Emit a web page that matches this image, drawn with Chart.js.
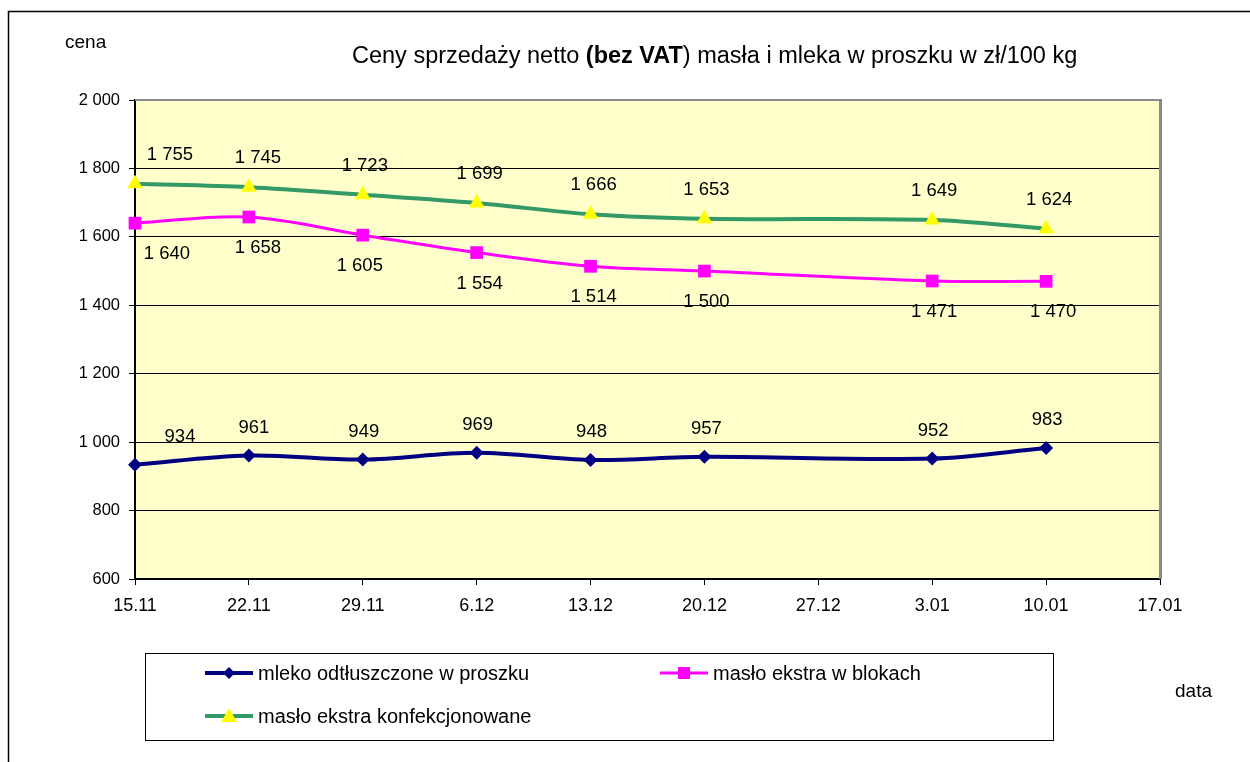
<!DOCTYPE html>
<html>
<head>
<meta charset="utf-8">
<script src="https://cdn.jsdelivr.net/npm/chart.js@4/dist/chart.umd.min.js"></script>
<style>
html,body{margin:0;padding:0;background:#fff;}
#wrap{position:relative;width:1250px;height:762px;}
canvas{display:block;}
</style>
</head>
<body>
<div id="wrap"><canvas id="c" width="1250" height="762"></canvas></div>
<script>
// ---- data ----
const tickLabels = ["15.11","22.11","29.11","6.12","13.12","20.12","27.12","3.01","10.01","17.01"];
const weekIndex = [0, 1, 2, 3, 4, 5, 7, 8];
const mleko = [934, 961, 949, 969, 948, 957, 952, 983];
const masloBloki = [1640, 1658, 1605, 1554, 1514, 1500, 1471, 1470];
const masloKonf = [1755, 1745, 1723, 1699, 1666, 1653, 1649, 1624];
const seriesNames = ["mleko odtłuszczone w proszku", "masło ekstra w blokach", "masło ekstra konfekcjonowane"];

const FONT = "'Liberation Sans', Arial, sans-serif";
const pts = (vals) => vals.map((v, i) => ({x: weekIndex[i], y: v}));
const fmt = (v) => { const s = String(Math.round(v)); return s.length > 3 ? s.slice(0, s.length-3) + " " + s.slice(-3) : s; };

// label placement styling (pixel offsets relative to point)
const labelStyle = [
  {dy: -28, dx: [45, 5, 1, 1, 1, 2, 1, 1]},
  {dy: 31, dx: [32, 9, -3, 3, 3, 2, 2, 7]},
  {dy: -29, dx: [35, 9, 2, 3, 3, 2, 2, 3]}
];

const decorPlugin = {
  id: 'decor',
  beforeDraw(chart) {
    const {ctx, chartArea: a} = chart;
    ctx.save();
    ctx.fillStyle = '#fff';
    ctx.fillRect(0, 0, chart.width, chart.height);
    ctx.fillStyle = '#FFFFCC';
    ctx.fillRect(a.left, a.top, a.right - a.left, a.bottom - a.top);
    ctx.restore();
  },
  afterDatasetsDraw(chart) {
    const {ctx} = chart;
    ctx.save();
    ctx.font = "18.5px " + FONT;
    ctx.fillStyle = '#000';
    ctx.textAlign = 'center';
    ctx.textBaseline = 'middle';
    chart.data.datasets.forEach((ds, di) => {
      const meta = chart.getDatasetMeta(di);
      const st = labelStyle[di];
      meta.data.forEach((el, i) => {
        ctx.fillText(fmt(ds.data[i].y), el.x + st.dx[i], el.y + st.dy);
      });
    });
    ctx.restore();
  },
  afterDraw(chart) {
    const {ctx, chartArea: a} = chart;
    ctx.save();
    // outer frame
    ctx.strokeStyle = '#000';
    ctx.lineWidth = 1.5;
    ctx.beginPath();
    ctx.moveTo(8.5, 762);
    ctx.lineTo(8.5, 11.5);
    ctx.lineTo(1250, 11.5);
    ctx.stroke();
    // plot top/right border
    ctx.strokeStyle = '#8a8a8a';
    ctx.lineWidth = 2;
    ctx.beginPath();
    ctx.moveTo(a.left, a.top);
    ctx.lineTo(a.right, a.top);
    ctx.stroke();
    ctx.lineWidth = 3;
    ctx.beginPath();
    ctx.moveTo(a.right + 0.5, a.top - 1);
    ctx.lineTo(a.right + 0.5, a.bottom);
    ctx.stroke();
    // texts
    ctx.fillStyle = '#000';
    ctx.textBaseline = 'middle';
    ctx.textAlign = 'left';
    ctx.font = "19px " + FONT;
    ctx.fillText("cena", 65, 43);
    ctx.fillText("data", 1175, 692);
    // title with bold part
    const parts = [["Ceny sprzedaży netto ", false], ["(bez VAT", true], [") masła i mleka w proszku w zł/100 kg", false]];
    let x = 352;
    parts.forEach(([t, b]) => {
      ctx.font = (b ? "bold " : "") + "23.5px " + FONT;
      ctx.fillText(t, x, 57);
      x += ctx.measureText(t).width;
    });
    // legend box
    ctx.strokeStyle = '#000';
    ctx.lineWidth = 1;
    ctx.strokeRect(145.5, 653.5, 908, 87);
    const pos = [[205, 673], [660, 673], [205, 716]];
    chart.data.datasets.forEach((ds, di) => {
      const [lx, ly] = pos[di];
      ctx.strokeStyle = ds.borderColor;
      ctx.lineWidth = ds.borderWidth;
      ctx.beginPath();
      ctx.moveTo(lx, ly);
      ctx.lineTo(lx + 48, ly);
      ctx.stroke();
      ctx.fillStyle = ds.pointBackgroundColor;
      ctx.beginPath();
      if (di === 0) { ctx.moveTo(lx+24, ly-6); ctx.lineTo(lx+30, ly); ctx.lineTo(lx+24, ly+6); ctx.lineTo(lx+18, ly); }
      else if (di === 1) { ctx.rect(lx+18, ly-6, 12, 12); }
      else { ctx.moveTo(lx+24, ly-8); ctx.lineTo(lx+32, ly+6); ctx.lineTo(lx+16, ly+6); }
      ctx.closePath();
      ctx.fill();
      ctx.fillStyle = '#000';
      ctx.font = "20px " + FONT;
      ctx.fillText(seriesNames[di], lx + 53, ly + 1);
    });
    ctx.restore();
  }
};

new Chart(document.getElementById('c'), {
  type: 'line',
  data: {
    datasets: [
      {label: seriesNames[0], data: pts(mleko), borderColor: '#000080', borderWidth: 4,
       pointStyle: 'rectRot', pointRadius: 7, pointHoverRadius: 7, pointBackgroundColor: '#000080', pointBorderColor: '#000080', pointBorderWidth: 0, tension: 0.35},
      {label: seriesNames[1], data: pts(masloBloki), borderColor: '#FF00FF', borderWidth: 3,
       pointStyle: 'rect', pointRadius: 9, pointHoverRadius: 9, pointBackgroundColor: '#FF00FF', pointBorderColor: '#FF00FF', pointBorderWidth: 0, tension: 0.35},
      {label: seriesNames[2], data: pts(masloKonf), borderColor: '#339966', borderWidth: 4,
       pointStyle: 'triangle', pointRadius: 9, pointHoverRadius: 9, pointBackgroundColor: '#FFFF00', pointBorderColor: '#FFFF00', pointBorderWidth: 0, tension: 0.35}
    ]
  },
  options: {
    responsive: false,
    animation: false,
    events: [],
    clip: false,
    layout: {padding: {left: 0, top: 100, right: 90, bottom: 0}},
    plugins: {legend: {display: false}, title: {display: false}, tooltip: {enabled: false}},
    scales: {
      x: {
        type: 'linear', min: 0, max: 9,
        afterFit(s) { s.height = 183; },
        afterBuildTicks(s) { s.ticks = tickLabels.map((_, i) => ({value: i})); },
        ticks: {
          autoSkip: false, maxRotation: 0, color: '#000', padding: 10,
          font: {family: FONT, size: 18},
          callback: (v) => tickLabels[v]
        },
        grid: {drawOnChartArea: false, drawTicks: true, tickLength: 6, color: '#000', lineWidth: 1},
        border: {color: '#000', width: 2}
      },
      y: {
        min: 600, max: 2000,
        afterFit(s) { s.width = 135; },
        ticks: {stepSize: 200, color: '#000', padding: 9, font: {family: FONT, size: 16.5}, callback: (v) => fmt(v)},
        grid: {color: '#000', lineWidth: 1, drawTicks: true, tickLength: 6},
        border: {color: '#000', width: 2}
      }
    }
  },
  plugins: [decorPlugin]
});
</script>
</body>
</html>
